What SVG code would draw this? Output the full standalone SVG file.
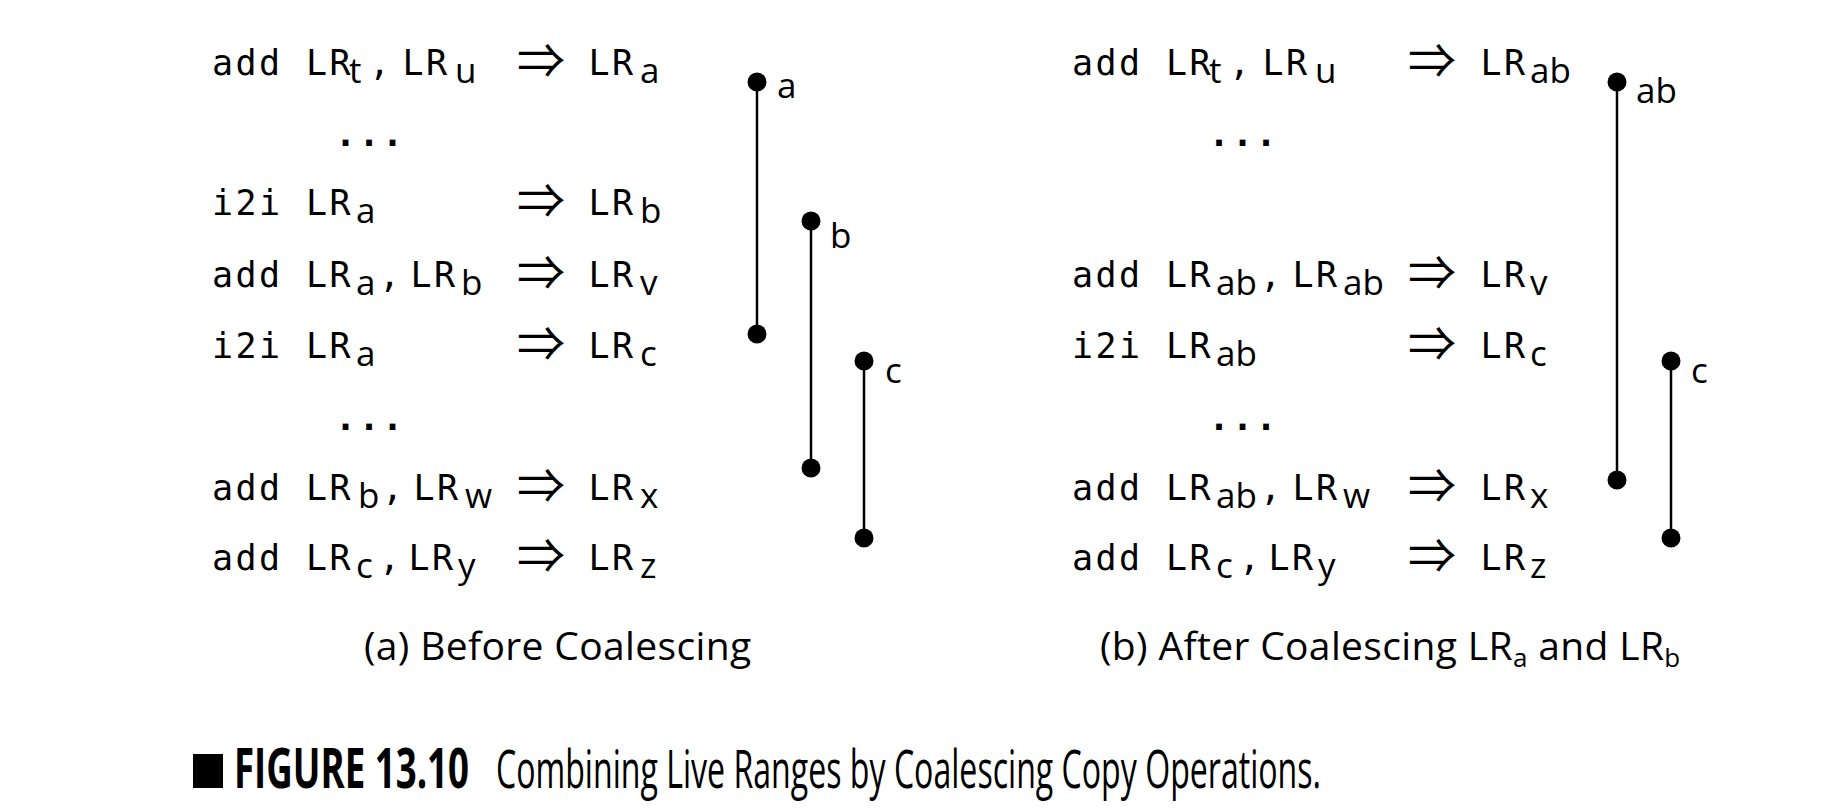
<svg xmlns="http://www.w3.org/2000/svg" width="1838" height="810" viewBox="0 0 1838 810">
<style>
.m{font-family:"DejaVu Sans Mono",monospace;font-size:35px;letter-spacing:2.4px;fill:#000}
.d{font-family:"DejaVu Sans Mono",monospace;font-size:35px;font-weight:bold;letter-spacing:2.4px;fill:#000}
.s{font-family:"Open Sans",sans-serif;font-size:35px;letter-spacing:0}
.ar{font-family:"Noto Sans CJK JP","DejaVu Sans",sans-serif;font-size:48px;letter-spacing:0}
.lbl{font-family:"Open Sans",sans-serif;font-size:35px;fill:#000}
.cap{font-family:"Open Sans",sans-serif;font-size:39px;letter-spacing:0.35px;fill:#000}
.fb{font-family:"Open Sans",sans-serif;font-size:55px;font-weight:bold;fill:#000}
.fr{font-family:"Open Sans",sans-serif;font-size:53px;fill:#000}
.rng{stroke:#000;stroke-width:2.5;fill:none}
.dot{fill:#000}
</style>
<rect width="1838" height="810" fill="#fff"/>

<g id="panel-a">
<text class="m" y="75"><tspan x="212">add</tspan><tspan x="306">LR</tspan><tspan class="s" x="349" y="83">t</tspan><tspan x="369" y="75">,</tspan><tspan x="402.5">LR</tspan><tspan class="s" x="455" y="83">u</tspan><tspan class="ar" x="517" y="78">⇒</tspan><tspan x="588.5" y="75">LR</tspan><tspan class="s" x="640" y="83">a</tspan></text>
<text class="d" x="335" y="146">...</text>
<text class="m" y="215"><tspan x="212">i2i</tspan><tspan x="306">LR</tspan><tspan class="s" x="356" y="223">a</tspan><tspan class="ar" x="517" y="218">⇒</tspan><tspan x="588.5" y="215">LR</tspan><tspan class="s" x="640" y="223">b</tspan></text>
<text class="m" y="287"><tspan x="212">add</tspan><tspan x="306">LR</tspan><tspan class="s" x="356" y="295">a</tspan><tspan x="379" y="287">,</tspan><tspan x="410.5">LR</tspan><tspan class="s" x="461" y="295">b</tspan><tspan class="ar" x="517" y="290">⇒</tspan><tspan x="588.5" y="287">LR</tspan><tspan class="s" x="640" y="295">v</tspan></text>
<text class="m" y="358"><tspan x="212">i2i</tspan><tspan x="306">LR</tspan><tspan class="s" x="356" y="366">a</tspan><tspan class="ar" x="517" y="361">⇒</tspan><tspan x="588.5" y="358">LR</tspan><tspan class="s" x="640" y="366">c</tspan></text>
<text class="d" x="335" y="430">...</text>
<text class="m" y="500"><tspan x="212">add</tspan><tspan x="306">LR</tspan><tspan class="s" x="358" y="508">b</tspan><tspan x="382" y="500">,</tspan><tspan x="413.5">LR</tspan><tspan class="s" x="465" y="508">w</tspan><tspan class="ar" x="517" y="503">⇒</tspan><tspan x="588.5" y="500">LR</tspan><tspan class="s" x="640" y="508">x</tspan></text>
<text class="m" y="570"><tspan x="212">add</tspan><tspan x="306">LR</tspan><tspan class="s" x="356" y="578">c</tspan><tspan x="379" y="570">,</tspan><tspan x="408.5">LR</tspan><tspan class="s" x="458" y="578">y</tspan><tspan class="ar" x="517" y="573">⇒</tspan><tspan x="588.5" y="570">LR</tspan><tspan class="s" x="640" y="578">z</tspan></text>
<text class="cap" x="364" y="660">(a) Before Coalescing</text>
</g>

<g id="panel-b">
<text class="m" y="75"><tspan x="1072">add</tspan><tspan x="1166">LR</tspan><tspan class="s" x="1209" y="83">t</tspan><tspan x="1229" y="75">,</tspan><tspan x="1262.5">LR</tspan><tspan class="s" x="1315" y="83">u</tspan><tspan class="ar" x="1408" y="78">⇒</tspan><tspan x="1480.5" y="75">LR</tspan><tspan class="s" x="1530" y="83">ab</tspan></text>
<text class="d" x="1208.5" y="146">...</text>
<text class="m" y="287"><tspan x="1072">add</tspan><tspan x="1166">LR</tspan><tspan class="s" x="1216" y="295">ab</tspan><tspan x="1260" y="287">,</tspan><tspan x="1292.5">LR</tspan><tspan class="s" x="1343" y="295">ab</tspan><tspan class="ar" x="1408" y="290">⇒</tspan><tspan x="1480.5" y="287">LR</tspan><tspan class="s" x="1530" y="295">v</tspan></text>
<text class="m" y="358"><tspan x="1072">i2i</tspan><tspan x="1166">LR</tspan><tspan class="s" x="1216" y="366">ab</tspan><tspan class="ar" x="1408" y="361">⇒</tspan><tspan x="1480.5" y="358">LR</tspan><tspan class="s" x="1530" y="366">c</tspan></text>
<text class="d" x="1208.5" y="430">...</text>
<text class="m" y="500"><tspan x="1072">add</tspan><tspan x="1166">LR</tspan><tspan class="s" x="1216" y="508">ab</tspan><tspan x="1260" y="500">,</tspan><tspan x="1292.5">LR</tspan><tspan class="s" x="1343" y="508">w</tspan><tspan class="ar" x="1408" y="503">⇒</tspan><tspan x="1480.5" y="500">LR</tspan><tspan class="s" x="1530" y="508">x</tspan></text>
<text class="m" y="570"><tspan x="1072">add</tspan><tspan x="1166">LR</tspan><tspan class="s" x="1216" y="578">c</tspan><tspan x="1239" y="570">,</tspan><tspan x="1268.5">LR</tspan><tspan class="s" x="1318" y="578">y</tspan><tspan class="ar" x="1408" y="573">⇒</tspan><tspan x="1480.5" y="570">LR</tspan><tspan class="s" x="1530" y="578">z</tspan></text>
<text class="cap" x="1100" y="660">(b) After Coalescing LR<tspan font-size="26" dy="7">a</tspan><tspan dy="-7"> and LR</tspan><tspan font-size="26" dy="7">b</tspan></text>
</g>

<g id="connectors">
<line class="rng" x1="757" y1="82" x2="757" y2="334"/>
<line class="rng" x1="811" y1="221" x2="811" y2="468"/>
<line class="rng" x1="864" y1="361" x2="864" y2="538"/>
<line class="rng" x1="1617" y1="82" x2="1617" y2="480"/>
<line class="rng" x1="1671" y1="361" x2="1671" y2="538"/>
</g>

<g id="range-a">
<circle class="dot" cx="757" cy="82" r="9.5"/><circle class="dot" cx="757" cy="334" r="9.5"/>
<text class="lbl" x="777" y="98">a</text>
</g>
<g id="range-b">
<circle class="dot" cx="811" cy="221" r="9.5"/><circle class="dot" cx="811" cy="468" r="9.5"/>
<text class="lbl" x="830" y="248">b</text>
</g>
<g id="range-c">
<circle class="dot" cx="864" cy="361" r="9.5"/><circle class="dot" cx="864" cy="538" r="9.5"/>
<text class="lbl" x="885" y="383">c</text>
</g>
<g id="range-ab">
<circle class="dot" cx="1617" cy="82" r="9.5"/><circle class="dot" cx="1617" cy="480" r="9.5"/>
<text class="lbl" x="1636" y="103">ab</text>
</g>
<g id="range-c2">
<circle class="dot" cx="1671" cy="361" r="9.5"/><circle class="dot" cx="1671" cy="538" r="9.5"/>
<text class="lbl" x="1691" y="383">c</text>
</g>

<g id="caption">
<rect x="193" y="754" width="30" height="34" fill="#000"/>
<text class="fb" x="234" y="788" textLength="235" lengthAdjust="spacingAndGlyphs">FIGURE 13.10</text>
<text class="fr" x="496" y="788" textLength="825" lengthAdjust="spacingAndGlyphs">Combining Live Ranges by Coalescing Copy Operations.</text>
</g>
</svg>
